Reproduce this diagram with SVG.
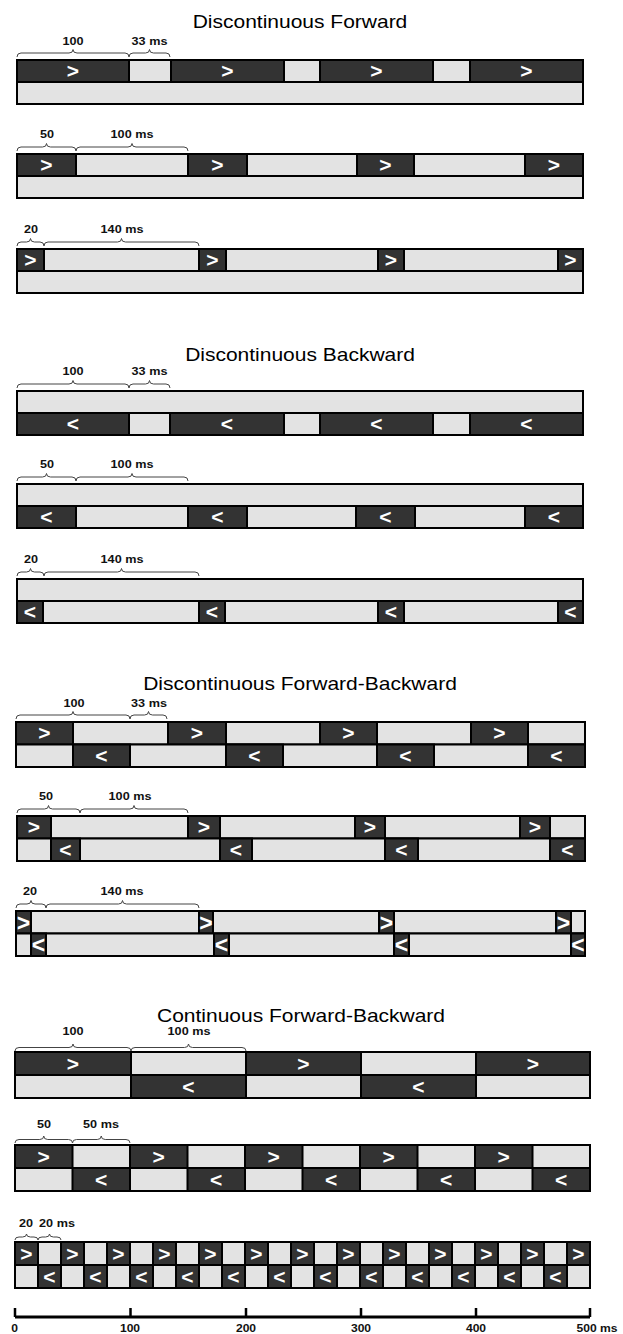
<svg xmlns="http://www.w3.org/2000/svg" width="623" height="1334" viewBox="0 0 623 1334">
<style>
.l{fill:#e3e3e3;stroke:#000;stroke-width:2}
.d{fill:#333;stroke:#000;stroke-width:2}
.a{fill:#fff;font-family:"Liberation Sans",Arial,sans-serif;font-weight:bold;font-size:21px;text-anchor:middle;transform:translateY(1px)}
.a2{fill:#fff;font-family:"Liberation Sans",Arial,sans-serif;font-weight:bold;font-size:23px;text-anchor:middle;transform:translateY(1.5px)}
.n{fill:#111;font-family:"Liberation Sans",Arial,sans-serif;font-weight:bold;font-size:11px;text-anchor:middle}
.t{fill:#000;font-family:"Liberation Sans",Arial,sans-serif;font-size:17.5px;text-anchor:middle}
.b{fill:none;stroke:#444;stroke-width:1}
.ax{fill:none;stroke:#000;stroke-width:3}
.tk{fill:none;stroke:#000;stroke-width:2.5}
</style>
<rect width="623" height="1334" fill="#fff"/>

<!-- Section 1 -->
<g id="s1">
<text class="t" transform="translate(300,28) scale(1.2,1)">Discontinuous Forward</text>
<g id="s1a">
<rect class="l" x="17" y="60" width="566" height="22"/>
<rect class="d" x="17" y="60" width="112" height="22"/><rect class="d" x="171" y="60" width="113" height="22"/><rect class="d" x="320" y="60" width="113" height="22"/><rect class="d" x="470" y="60" width="113" height="22"/>
<rect class="l" x="17" y="82" width="566" height="22"/>
<text class="a" x="73" y="77">&gt;</text><text class="a" x="227.5" y="77">&gt;</text><text class="a" x="376.5" y="77">&gt;</text><text class="a" x="526.5" y="77">&gt;</text>
<path class="b" d="M17 57Q17 53 21 53L69 53Q73 53 73 49.5Q73 53 77 53L125 53Q129 53 129 57"/>
<path class="b" d="M129 57Q129 53 133 53L145.5 53Q149.5 53 149.5 49.5Q149.5 53 153.5 53L166 53Q170 53 170 57"/>
<text class="n" transform="translate(73,45) scale(1.15,1)">100</text><text class="n" transform="translate(149.5,45) scale(1.15,1)">33 ms</text>
</g>
<g id="s1b">
<rect class="l" x="17" y="154" width="566" height="22"/>
<rect class="d" x="17" y="154" width="59" height="22"/><rect class="d" x="188" y="154" width="59" height="22"/><rect class="d" x="357" y="154" width="57" height="22"/><rect class="d" x="525" y="154" width="58" height="22"/>
<rect class="l" x="17" y="176" width="566" height="22"/>
<text class="a" x="46.5" y="171">&gt;</text><text class="a" x="217.5" y="171">&gt;</text><text class="a" x="385.5" y="171">&gt;</text><text class="a" x="554" y="171">&gt;</text>
<path class="b" d="M17 151Q17 147 21 147L42.5 147Q46.5 147 46.5 143.5Q46.5 147 50.5 147L72 147Q76 147 76 151"/>
<path class="b" d="M76 151Q76 147 80 147L128 147Q132 147 132 143.5Q132 147 136 147L184 147Q188 147 188 151"/>
<text class="n" transform="translate(47,138) scale(1.15,1)">50</text><text class="n" transform="translate(132,138) scale(1.15,1)">100 ms</text>
</g>
<g id="s1c">
<rect class="l" x="17" y="249" width="566" height="22"/>
<rect class="d" x="17" y="249" width="27" height="22"/><rect class="d" x="199" y="249" width="27" height="22"/><rect class="d" x="378" y="249" width="26" height="22"/><rect class="d" x="558" y="249" width="25" height="22"/>
<rect class="l" x="17" y="271" width="566" height="22"/>
<text class="a" x="30.5" y="266">&gt;</text><text class="a" x="212.5" y="266">&gt;</text><text class="a" x="391" y="266">&gt;</text><text class="a" x="570.5" y="266">&gt;</text>
<path class="b" d="M17 246Q17 242 21 242L26.5 242Q30.5 242 30.5 238.5Q30.5 242 34.5 242L40 242Q44 242 44 246"/>
<path class="b" d="M44 246Q44 242 48 242L117.5 242Q121.5 242 121.5 238.5Q121.5 242 125.5 242L195 242Q199 242 199 246"/>
<text class="n" transform="translate(31,233) scale(1.15,1)">20</text><text class="n" transform="translate(122,233) scale(1.15,1)">140 ms</text>
</g>
</g>

<!-- Section 2 -->
<g id="s2">
<text class="t" transform="translate(300,361) scale(1.2,1)">Discontinuous Backward</text>
<g id="s2a">
<rect class="l" x="17" y="391" width="566" height="22"/>
<rect class="l" x="17" y="413" width="566" height="22"/>
<rect class="d" x="17" y="413" width="112" height="22"/><rect class="d" x="170" y="413" width="114" height="22"/><rect class="d" x="320" y="413" width="113" height="22"/><rect class="d" x="470" y="413" width="113" height="22"/>
<text class="a" x="73" y="430">&lt;</text><text class="a" x="227" y="430">&lt;</text><text class="a" x="376.5" y="430">&lt;</text><text class="a" x="526.5" y="430">&lt;</text>
<path class="b" d="M17 388Q17 384 21 384L69 384Q73 384 73 380.5Q73 384 77 384L125 384Q129 384 129 388"/>
<path class="b" d="M129 388Q129 384 133 384L145.5 384Q149.5 384 149.5 380.5Q149.5 384 153.5 384L166 384Q170 384 170 388"/>
<text class="n" transform="translate(73,375) scale(1.15,1)">100</text><text class="n" transform="translate(149.5,375) scale(1.15,1)">33 ms</text>
</g>
<g id="s2b">
<rect class="l" x="17" y="484" width="566" height="22"/>
<rect class="l" x="17" y="506" width="566" height="22"/>
<rect class="d" x="17" y="506" width="59" height="22"/><rect class="d" x="188" y="506" width="59" height="22"/><rect class="d" x="356" y="506" width="59" height="22"/><rect class="d" x="525" y="506" width="58" height="22"/>
<text class="a" x="46.5" y="523">&lt;</text><text class="a" x="217.5" y="523">&lt;</text><text class="a" x="385.5" y="523">&lt;</text><text class="a" x="554" y="523">&lt;</text>
<path class="b" d="M17 481Q17 477 21 477L42.5 477Q46.5 477 46.5 473.5Q46.5 477 50.5 477L72 477Q76 477 76 481"/>
<path class="b" d="M76 481Q76 477 80 477L128 477Q132 477 132 473.5Q132 477 136 477L184 477Q188 477 188 481"/>
<text class="n" transform="translate(47,468) scale(1.15,1)">50</text><text class="n" transform="translate(132,468) scale(1.15,1)">100 ms</text>
</g>
<g id="s2c">
<rect class="l" x="17" y="579" width="566" height="22"/>
<rect class="l" x="17" y="601" width="566" height="22"/>
<rect class="d" x="17" y="601" width="26" height="22"/><rect class="d" x="199" y="601" width="26" height="22"/><rect class="d" x="378" y="601" width="26" height="22"/><rect class="d" x="558" y="601" width="25" height="22"/>
<text class="a" x="30" y="618">&lt;</text><text class="a" x="212" y="618">&lt;</text><text class="a" x="391" y="618">&lt;</text><text class="a" x="570.5" y="618">&lt;</text>
<path class="b" d="M17 576Q17 572 21 572L26.5 572Q30.5 572 30.5 568.5Q30.5 572 34.5 572L40 572Q44 572 44 576"/>
<path class="b" d="M44 576Q44 572 48 572L117.5 572Q121.5 572 121.5 568.5Q121.5 572 125.5 572L195 572Q199 572 199 576"/>
<text class="n" transform="translate(31,563) scale(1.15,1)">20</text><text class="n" transform="translate(122,563) scale(1.15,1)">140 ms</text>
</g>
</g>

<!-- Section 3 -->
<g id="s3">
<text class="t" transform="translate(300,690) scale(1.2,1)">Discontinuous Forward-Backward</text>
<g id="s3a">
<rect class="l" x="16" y="722" width="569" height="22.5"/>
<rect class="d" x="16" y="722" width="57" height="22.5"/><rect class="d" x="168" y="722" width="58" height="22.5"/><rect class="d" x="320" y="722" width="57" height="22.5"/><rect class="d" x="471" y="722" width="57" height="22.5"/>
<rect class="l" x="16" y="744.5" width="569" height="22.5"/>
<rect class="d" x="73" y="744.5" width="57" height="22.5"/><rect class="d" x="226" y="744.5" width="57" height="22.5"/><rect class="d" x="377" y="744.5" width="57" height="22.5"/><rect class="d" x="528" y="744.5" width="57" height="22.5"/>
<text class="a" x="44.5" y="739">&gt;</text><text class="a" x="197" y="739">&gt;</text><text class="a" x="348.5" y="739">&gt;</text><text class="a" x="499.5" y="739">&gt;</text>
<text class="a" x="101.5" y="761.5">&lt;</text><text class="a" x="254.5" y="761.5">&lt;</text><text class="a" x="405.5" y="761.5">&lt;</text><text class="a" x="556.5" y="761.5">&lt;</text>
<path class="b" d="M16 719Q16 715 20 715L69 715Q73 715 73 711.5Q73 715 77 715L126 715Q130 715 130 719"/>
<path class="b" d="M130 719Q130 715 134 715L144.5 715Q148.5 715 148.5 711.5Q148.5 715 152.5 715L163 715Q167 715 167 719"/>
<text class="n" transform="translate(74,707) scale(1.15,1)">100</text><text class="n" transform="translate(149,707) scale(1.15,1)">33 ms</text>
</g>
<g id="s3b">
<rect class="l" x="17" y="816" width="568" height="22.5"/>
<rect class="d" x="17" y="816" width="34" height="22.5"/><rect class="d" x="188" y="816" width="32" height="22.5"/><rect class="d" x="355" y="816" width="30" height="22.5"/><rect class="d" x="520" y="816" width="30" height="22.5"/>
<rect class="l" x="17" y="838.5" width="568" height="22.5"/>
<rect class="d" x="51" y="838.5" width="29" height="22.5"/><rect class="d" x="220" y="838.5" width="32" height="22.5"/><rect class="d" x="385" y="838.5" width="33" height="22.5"/><rect class="d" x="550" y="838.5" width="35" height="22.5"/>
<text class="a" x="34" y="833">&gt;</text><text class="a" x="204" y="833">&gt;</text><text class="a" x="370" y="833">&gt;</text><text class="a" x="535" y="833">&gt;</text>
<text class="a" x="65.5" y="855.5">&lt;</text><text class="a" x="236" y="855.5">&lt;</text><text class="a" x="401.5" y="855.5">&lt;</text><text class="a" x="567.5" y="855.5">&lt;</text>
<path class="b" d="M17 813Q17 809 21 809L44.5 809Q48.5 809 48.5 805.5Q48.5 809 52.5 809L76 809Q80 809 80 813"/>
<path class="b" d="M80 813Q80 809 84 809L130 809Q134 809 134 805.5Q134 809 138 809L184 809Q188 809 188 813"/>
<text class="n" transform="translate(46,800) scale(1.15,1)">50</text><text class="n" transform="translate(130,800) scale(1.15,1)">100 ms</text>
</g>
<g id="s3c">
<rect class="l" x="16" y="911" width="569" height="22.5"/>
<rect class="d" x="16" y="911" width="15" height="22.5"/><rect class="d" x="199" y="911" width="14" height="22.5"/><rect class="d" x="379" y="911" width="15" height="22.5"/><rect class="d" x="556" y="911" width="15" height="22.5"/>
<rect class="l" x="16" y="933.5" width="569" height="22.5"/>
<rect class="d" x="31" y="933.5" width="15" height="22.5"/><rect class="d" x="214" y="933.5" width="15" height="22.5"/><rect class="d" x="394" y="933.5" width="15" height="22.5"/><rect class="d" x="571" y="933.5" width="14" height="22.5"/>
<text class="a2" x="23.5" y="929">&gt;</text><text class="a2" x="206" y="929">&gt;</text><text class="a2" x="386.5" y="929">&gt;</text><text class="a2" x="563.5" y="929">&gt;</text>
<text class="a2" x="38.5" y="951.5">&lt;</text><text class="a2" x="221.5" y="951.5">&lt;</text><text class="a2" x="401.5" y="951.5">&lt;</text><text class="a2" x="578" y="951.5">&lt;</text>
<path class="b" d="M16 908Q16 904 20 904L27 904Q31 904 31 900.5Q31 904 35 904L42 904Q46 904 46 908"/>
<path class="b" d="M46 908Q46 904 50 904L118.5 904Q122.5 904 122.5 900.5Q122.5 904 126.5 904L195 904Q199 904 199 908"/>
<text class="n" transform="translate(30,895) scale(1.15,1)">20</text><text class="n" transform="translate(122,895) scale(1.15,1)">140 ms</text>
</g>
</g>

<!-- Section 4 -->
<g id="s4">
<text class="t" transform="translate(301,1022) scale(1.2,1)">Continuous Forward-Backward</text>
<g id="s4a">
<rect class="l" x="15" y="1052" width="575" height="23"/>
<rect class="d" x="15" y="1052" width="116" height="23"/><rect class="d" x="246" y="1052" width="115" height="23"/><rect class="d" x="476" y="1052" width="114" height="23"/>
<rect class="l" x="15" y="1075" width="575" height="23"/>
<rect class="d" x="131" y="1075" width="115" height="23"/><rect class="d" x="361" y="1075" width="115" height="23"/>
<text class="a" x="73" y="1070">&gt;</text><text class="a" x="303.5" y="1070">&gt;</text><text class="a" x="533" y="1070">&gt;</text>
<text class="a" x="188.5" y="1093">&lt;</text><text class="a" x="418.5" y="1093">&lt;</text>
<path class="b" d="M15 1051Q15 1047.5 19 1047.5L69 1047.5Q73 1047.5 73 1044Q73 1047.5 77 1047.5L127 1047.5Q131 1047.5 131 1051"/>
<path class="b" d="M131 1051Q131 1047.5 135 1047.5L184.5 1047.5Q188.5 1047.5 188.5 1044Q188.5 1047.5 192.5 1047.5L242 1047.5Q246 1047.5 246 1051"/>
<text class="n" transform="translate(73,1035) scale(1.15,1)">100</text><text class="n" transform="translate(189,1035) scale(1.15,1)">100 ms</text>
</g>
<g id="s4b">
<rect class="l" x="15" y="1145" width="575" height="23"/>
<rect class="d" x="15" y="1145" width="57.5" height="23"/><rect class="d" x="130" y="1145" width="57.5" height="23"/><rect class="d" x="245" y="1145" width="57.5" height="23"/><rect class="d" x="360" y="1145" width="57.5" height="23"/><rect class="d" x="475" y="1145" width="57.5" height="23"/>
<rect class="l" x="15" y="1168" width="575" height="23"/>
<rect class="d" x="72.5" y="1168" width="57.5" height="23"/><rect class="d" x="187.5" y="1168" width="57.5" height="23"/><rect class="d" x="302.5" y="1168" width="57.5" height="23"/><rect class="d" x="417.5" y="1168" width="57.5" height="23"/><rect class="d" x="532.5" y="1168" width="57.5" height="23"/>
<text class="a" x="43.75" y="1163">&gt;</text><text class="a" x="158.75" y="1163">&gt;</text><text class="a" x="273.75" y="1163">&gt;</text><text class="a" x="388.75" y="1163">&gt;</text><text class="a" x="503.75" y="1163">&gt;</text>
<text class="a" x="101.25" y="1186">&lt;</text><text class="a" x="216.25" y="1186">&lt;</text><text class="a" x="331.25" y="1186">&lt;</text><text class="a" x="446.25" y="1186">&lt;</text><text class="a" x="561.25" y="1186">&lt;</text>
<path class="b" d="M15 1143Q15 1139.5 19 1139.5L39.75 1139.5Q43.75 1139.5 43.75 1136Q43.75 1139.5 47.75 1139.5L68.5 1139.5Q72.5 1139.5 72.5 1143"/>
<path class="b" d="M72.5 1143Q72.5 1139.5 76.5 1139.5L97.25 1139.5Q101.25 1139.5 101.25 1136Q101.25 1139.5 105.25 1139.5L126 1139.5Q130 1139.5 130 1143"/>
<text class="n" transform="translate(44,1128) scale(1.15,1)">50</text><text class="n" transform="translate(101,1128) scale(1.15,1)">50 ms</text>
</g>
<g id="s4c">
<rect class="l" x="15" y="1242" width="575" height="23"/>
<rect class="d" x="15" y="1242" width="23" height="23"/><rect class="d" x="61" y="1242" width="23" height="23"/><rect class="d" x="107" y="1242" width="23" height="23"/><rect class="d" x="153" y="1242" width="23" height="23"/><rect class="d" x="199" y="1242" width="23" height="23"/><rect class="d" x="245" y="1242" width="23" height="23"/><rect class="d" x="291" y="1242" width="23" height="23"/><rect class="d" x="337" y="1242" width="23" height="23"/><rect class="d" x="383" y="1242" width="23" height="23"/><rect class="d" x="429" y="1242" width="23" height="23"/><rect class="d" x="475" y="1242" width="23" height="23"/><rect class="d" x="521" y="1242" width="23" height="23"/><rect class="d" x="567" y="1242" width="23" height="23"/>
<rect class="l" x="15" y="1265" width="575" height="23"/>
<rect class="d" x="38" y="1265" width="23" height="23"/><rect class="d" x="84" y="1265" width="23" height="23"/><rect class="d" x="130" y="1265" width="23" height="23"/><rect class="d" x="176" y="1265" width="23" height="23"/><rect class="d" x="222" y="1265" width="23" height="23"/><rect class="d" x="268" y="1265" width="23" height="23"/><rect class="d" x="314" y="1265" width="23" height="23"/><rect class="d" x="360" y="1265" width="23" height="23"/><rect class="d" x="406" y="1265" width="23" height="23"/><rect class="d" x="452" y="1265" width="23" height="23"/><rect class="d" x="498" y="1265" width="23" height="23"/><rect class="d" x="544" y="1265" width="23" height="23"/>
<text class="a" x="26.5" y="1260">&gt;</text><text class="a" x="72.5" y="1260">&gt;</text><text class="a" x="118.5" y="1260">&gt;</text><text class="a" x="164.5" y="1260">&gt;</text><text class="a" x="210.5" y="1260">&gt;</text><text class="a" x="256.5" y="1260">&gt;</text><text class="a" x="302.5" y="1260">&gt;</text><text class="a" x="348.5" y="1260">&gt;</text><text class="a" x="394.5" y="1260">&gt;</text><text class="a" x="440.5" y="1260">&gt;</text><text class="a" x="486.5" y="1260">&gt;</text><text class="a" x="532.5" y="1260">&gt;</text><text class="a" x="578.5" y="1260">&gt;</text>
<text class="a" x="49.5" y="1283">&lt;</text><text class="a" x="95.5" y="1283">&lt;</text><text class="a" x="141.5" y="1283">&lt;</text><text class="a" x="187.5" y="1283">&lt;</text><text class="a" x="233.5" y="1283">&lt;</text><text class="a" x="279.5" y="1283">&lt;</text><text class="a" x="325.5" y="1283">&lt;</text><text class="a" x="371.5" y="1283">&lt;</text><text class="a" x="417.5" y="1283">&lt;</text><text class="a" x="463.5" y="1283">&lt;</text><text class="a" x="509.5" y="1283">&lt;</text><text class="a" x="555.5" y="1283">&lt;</text>
<path class="b" d="M15 1240Q15 1237 19 1237L22.5 1237Q26.5 1237 26.5 1234Q26.5 1237 30.5 1237L34 1237Q38 1237 38 1240"/>
<path class="b" d="M38 1240Q38 1237 42 1237L45.5 1237Q49.5 1237 49.5 1234Q49.5 1237 53.5 1237L57 1237Q61 1237 61 1240"/>
<text class="n" transform="translate(26,1227) scale(1.15,1)">20</text><text class="n" transform="translate(57,1227) scale(1.15,1)">20 ms</text>
</g>
</g>

<!-- Axis -->
<g id="axis">
<path class="ax" d="M15 1317H590"/>
<path class="tk" d="M15 1308V1317M130.5 1308V1317M246 1308V1317M361 1308V1317M476 1308V1317M590 1308V1317"/>
<text class="n" transform="translate(14.5,1332) scale(1.1,1)">0</text>
<text class="n" transform="translate(130,1332) scale(1.1,1)">100</text>
<text class="n" transform="translate(246,1332) scale(1.1,1)">200</text>
<text class="n" transform="translate(361,1332) scale(1.1,1)">300</text>
<text class="n" transform="translate(476,1332) scale(1.1,1)">400</text>
<text class="n" transform="translate(597,1332) scale(1.1,1)">500 ms</text>
</g>
</svg>
